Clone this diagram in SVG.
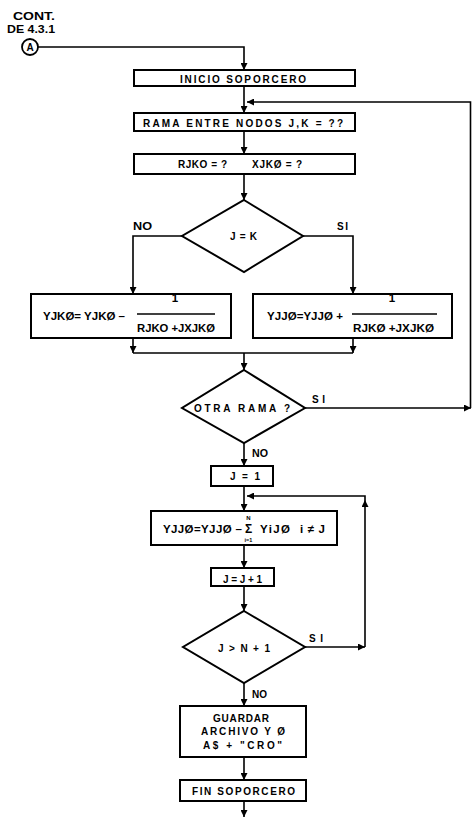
<svg xmlns="http://www.w3.org/2000/svg" width="472" height="818" viewBox="0 0 472 818">
<defs>
<marker id="ah" viewBox="0 0 8 8" refX="8" refY="4" markerWidth="8" markerHeight="7" markerUnits="userSpaceOnUse" orient="auto">
<path d="M0,0 L8,4 L0,8 Z" fill="#000"/>
</marker>
</defs>
<style>
.bx{fill:none;stroke:#000;stroke-width:2}
.dm{fill:none;stroke:#000;stroke-width:2;stroke-linejoin:miter}
.ln{fill:none;stroke:#000;stroke-width:1.6}
.ar{fill:none;stroke:#000;stroke-width:1.6;marker-end:url(#ah)}
.t{font-family:"Liberation Sans",Arial,sans-serif;font-weight:bold;font-size:10px;fill:#000}
.f{font-family:"Liberation Sans",Arial,sans-serif;font-weight:bold;font-size:11.5px;fill:#000}
.m{text-anchor:middle}
</style>
<rect width="472" height="818" fill="#fff"/>

<g id="connectors">
<path class="ar" d="M38,47 H244 V70"/>
<path class="ar" d="M244,86 V113"/>
<path class="ar" d="M470.5,408 V102 H247"/>
<path class="ar" d="M244,131 V154"/>
<path class="ar" d="M244,174 V200"/>
<path class="ar" d="M182,236 H133 V294"/>
<path class="ar" d="M303,236 H353 V294"/>
<path class="ar" d="M133,338 V353"/>
<path class="ar" d="M353,338 V353"/>
<path class="ln" d="M133,353 H353"/>
<path class="ar" d="M244,353 V370"/>
<path class="ar" d="M305,408 H471"/>
<path class="ar" d="M244,443 V466"/>
<path class="ar" d="M244,486 V511"/>
<path class="ar" d="M305,647 H365"/>
<path class="ar" d="M365,647 V500"/>
<path class="ar" d="M365,500 V496 H247"/>
<path class="ar" d="M244,545 V568"/>
<path class="ar" d="M244,586 V611"/>
<path class="ar" d="M244,683 V706"/>
<path class="ar" d="M244,757 V780"/>
<path class="ar" d="M244,801 V817"/>
</g>

<g id="cont">
<text class="t m" x="34" y="20" textLength="42" lengthAdjust="spacingAndGlyphs">CONT.</text>
<text class="t m" x="31" y="33" textLength="48" lengthAdjust="spacingAndGlyphs">DE 4.3.1</text>
</g>
<g id="connA">
<circle cx="30" cy="47" r="8" fill="#fff" stroke="#000" stroke-width="1.8"/>
<text class="t m" x="30" y="51" style="font-size:10px">A</text>
</g>

<g id="inicio">
<rect class="bx" x="134" y="70" width="221" height="16"/>
<text class="t m" x="243" y="82.5" textLength="126" lengthAdjust="spacing">INICIO SOPORCERO</text>
</g>

<g id="rama">
<rect class="bx" x="134" y="113" width="221" height="18"/>
<text class="t m" x="243" y="127" textLength="200" lengthAdjust="spacing">RAMA ENTRE NODOS J,K = ??</text>
</g>

<g id="rjko">
<rect class="bx" x="134" y="154" width="221" height="20"/>
<text class="t" x="178" y="167.5" textLength="49" lengthAdjust="spacing">RJKO = ?</text>
<text class="t" x="252" y="167.5" textLength="50" lengthAdjust="spacing">XJKØ = ?</text>
</g>

<g id="djk">
<polygon class="dm" points="244,200 303,236 244,272 182,236"/>
<text class="t m" x="243.5" y="240" textLength="27" lengthAdjust="spacing">J = K</text>
<text class="t" x="133" y="230" textLength="19" lengthAdjust="spacingAndGlyphs">NO</text>
<text class="t" x="337" y="230" textLength="11" lengthAdjust="spacing">SI</text>
</g>

<g id="yjk">
<rect class="bx" x="31" y="294" width="200" height="44"/>
<text class="f" x="43" y="320" textLength="82" lengthAdjust="spacing">YJKØ= YJKØ –</text>
<text class="f m" x="175" y="302">1</text>
<line class="ln" x1="137" y1="314" x2="215" y2="314"/>
<text class="f" x="137" y="332" textLength="78" lengthAdjust="spacingAndGlyphs">RJKO +JXJKØ</text>
</g>

<g id="yjj">
<rect class="bx" x="253" y="294" width="199" height="44"/>
<text class="f" x="267" y="320" textLength="76" lengthAdjust="spacing">YJJØ=YJJØ +</text>
<text class="f m" x="392" y="302">1</text>
<line class="ln" x1="352" y1="314" x2="437" y2="314"/>
<text class="f" x="353" y="332" textLength="81" lengthAdjust="spacingAndGlyphs">RJKØ +JXJKØ</text>
</g>

<g id="dotra">
<polygon class="dm" points="244,370 305,408 244,443 182,408"/>
<text class="t" x="194" y="412" textLength="96" lengthAdjust="spacing">OTRA RAMA ?</text>
<text class="t" x="312" y="403" textLength="13" lengthAdjust="spacing">SI</text>
<text class="t" x="252" y="457" textLength="16" lengthAdjust="spacingAndGlyphs">NO</text>
</g>

<g id="j1">
<rect class="bx" x="211" y="466" width="62" height="20"/>
<text class="t" x="230" y="480" textLength="30" lengthAdjust="spacing">J = 1</text>
</g>

<g id="sum">
<rect class="bx" x="151" y="511" width="186" height="34"/>
<text class="f" x="163" y="533" textLength="79" lengthAdjust="spacing">YJJØ=YJJØ –</text>
<text class="f m" x="248.5" y="533" style="font-size:12px">Σ</text>
<text class="t m" x="248.5" y="520" style="font-size:6px">N</text>
<text class="t m" x="248.5" y="542" style="font-size:5.5px">i=1</text>
<text class="f" x="260" y="533" textLength="30" lengthAdjust="spacing">YiJØ</text>
<text class="f" x="300" y="533" textLength="25" lengthAdjust="spacing">i ≠ J</text>
</g>

<g id="jj1">
<rect class="bx" x="211" y="568" width="63" height="18"/>
<text class="t" x="223" y="582.5" textLength="39" lengthAdjust="spacing">J = J + 1</text>
</g>

<g id="djn">
<polygon class="dm" points="244,611 305,647 244,683 183,647"/>
<text class="t" x="218" y="652" textLength="52" lengthAdjust="spacing">J &gt; N + 1</text>
<text class="t" x="309" y="642" textLength="14" lengthAdjust="spacing">SI</text>
<text class="t" x="252" y="698" textLength="15" lengthAdjust="spacingAndGlyphs">NO</text>
</g>

<g id="guardar">
<rect class="bx" x="180" y="706" width="126" height="51"/>
<text class="t" x="213" y="722" textLength="56" lengthAdjust="spacing">GUARDAR</text>
<text class="t" x="201" y="734.5" textLength="84" lengthAdjust="spacing">ARCHIVO Y Ø</text>
<text class="t" x="203" y="749" textLength="79" lengthAdjust="spacing">A$ + "CRO"</text>
</g>

<g id="fin">
<rect class="bx" x="180" y="780" width="126" height="21"/>
<text class="t" x="192" y="794.5" textLength="103" lengthAdjust="spacing">FIN SOPORCERO</text>
</g>
</svg>
